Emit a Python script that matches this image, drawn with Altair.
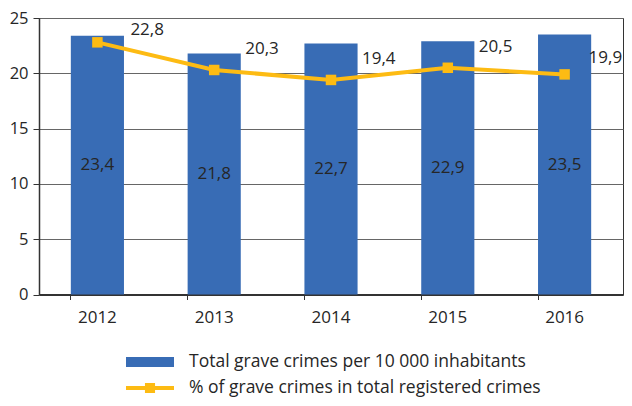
import altair as alt
import pandas as pd

years = ["2012", "2013", "2014", "2015", "2016"]
rate = [23.4, 21.8, 22.7, 22.9, 23.5]
share = [22.8, 20.3, 19.4, 20.5, 19.9]
bar_name = "Total grave crimes per 10 000 inhabitants"
line_name = "% of grave crimes in total registered crimes"

BLUE = "#386cb5"
GOLD = "#fdbb13"
FONT = "Open Sans"
TXT = "#262626"
FS = 17

df = pd.DataFrame({"year": years, "rate": rate, "share": share,
                   "s1": bar_name, "s2": line_name})

x = alt.X("year:N", title=None,
          scale=alt.Scale(paddingInner=0.545, paddingOuter=0.2725),
          axis=alt.Axis(labelAngle=0, bandPosition=0, tickSize=5, labelPadding=10,
                        domainColor="#333", domainWidth=2, tickColor="#333",
                        labelFontSize=FS, labelFont=FONT, labelColor=TXT, grid=False))
y_scale = alt.Scale(domain=[0, 25], nice=False)
y_axis = alt.Axis(values=[0, 5, 10, 15, 20, 25], title=None, tickSize=6, labelPadding=5,
                  domainColor="#333", domainWidth=1.5, tickColor="#333",
                  gridColor="#666", gridWidth=1, labelFontSize=16.5, labelFont=FONT,
                  labelColor=TXT)

base = alt.Chart(df).encode(x=x)

bars = base.mark_bar(color=BLUE).encode(
    y=alt.Y("rate:Q", scale=y_scale, axis=y_axis),
    color=alt.Color("s1:N", scale=alt.Scale(domain=[bar_name], range=[BLUE]),
                    legend=alt.Legend(orient="none", legendX=87, legendY=320, title=None,
                                      symbolType="M-1,-0.21H1V0.21H-1Z", symbolSize=2304,
                                      symbolStrokeWidth=0, labelFontSize=17.5, labelFont=FONT,
                                      labelColor=TXT, labelOffset=15, padding=0,
                                      labelLimit=500)),
)

bar_labels = base.transform_calculate(
    lab="replace(format(datum.rate, '.1f'), '.', ',')", mid="datum.rate / 2"
).mark_text(font=FONT, fontSize=FS, color=TXT).encode(
    y=alt.Y("mid:Q", scale=y_scale), text="lab:N")

line = base.mark_line(color=GOLD, strokeWidth=4).encode(
    y=alt.Y("share:Q", scale=y_scale))

points = base.mark_square(size=110, opacity=1, filled=True).encode(
    y=alt.Y("share:Q", scale=y_scale),
    color=alt.Color("s2:N", scale=alt.Scale(domain=[line_name], range=[GOLD]),
                    legend=alt.Legend(orient="none", legendX=87, legendY=346, title=None,
                                      symbolType="M-1,-0.085H-0.21V-0.21H0.21V-0.085H1V0.085H0.21V0.21H-0.21V0.085H-1Z",
                                      symbolSize=2304, symbolStrokeWidth=0,
                                      labelFontSize=17.5, labelFont=FONT, labelColor=TXT,
                                      labelOffset=15, padding=0, labelLimit=500)),
)

line_lab = base.transform_calculate(
    lab="replace(format(datum.share, '.1f'), '.', ',')")


def share_labels(cond, dx, dy):
    return line_lab.transform_filter(cond).mark_text(
        font=FONT, fontSize=FS, color=TXT, align="left", dx=dx, dy=dy).encode(
        y=alt.Y("share:Q", scale=y_scale), text="lab:N")


lab_a = share_labels("datum.year == '2012'", 33, -12)
lab_b = share_labels("datum.year != '2012' && datum.year != '2016'", 31, -21)
lab_c = share_labels("datum.year == '2016'", 24, -16)

chart = alt.layer(bars, bar_labels, line, points, lab_a, lab_b, lab_c
).resolve_scale(color="independent").properties(
    width=584, height=276.5,
    autosize=alt.AutoSizeParams(type="none"),
    padding={"left": 31, "top": 10, "right": 1, "bottom": 103},
).configure_view(stroke="#333", strokeWidth=1)

chart.save("out.html", embed_options={"renderer": "svg", "actions": False})
